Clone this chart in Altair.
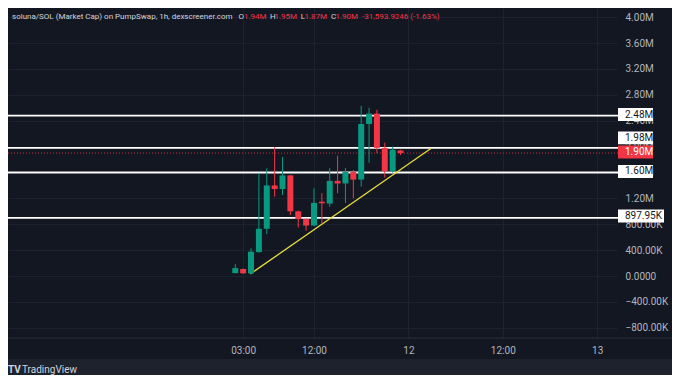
import altair as alt
import pandas as pd

# ---------------- data (values in millions) ----------------
hours  = [2, 3, 4, 5, 6, 7, 8, 9, 10, 11, 12, 13, 14, 15, 16, 17, 18, 19, 20, 21, 22, 23]
opens  = [0.045, 0.108, 0.040, 0.37, 0.73, 1.40, 1.345, 1.555, 1.00, 0.88, 0.78, 1.148, 1.12, 1.47, 1.43, 1.61, 1.49, 2.35, 2.51, 1.98, 1.62, 1.94]
highs  = [0.185, 0.115, 0.428, 1.587, 1.665, 1.99, 1.84, 1.56, 1.01, 0.89, 1.355, 1.28, 1.67, 1.86, 1.67, 1.64, 2.63, 2.60, 2.57, 2.06, 2.00, 1.95]
lows   = [0.040, 0.035, 0.030, 0.36, 0.65, 1.226, 1.25, 0.94, 0.75, 0.70, 0.77, 0.815, 1.07, 1.28, 1.13, 1.20, 1.38, 1.75, 1.90, 1.52, 1.60, 1.87]
closes = [0.122, 0.042, 0.376, 0.73, 1.40, 1.345, 1.555, 1.00, 0.88, 0.78, 1.13, 1.124, 1.47, 1.43, 1.61, 1.49, 2.35, 2.51, 1.98, 1.62, 1.95, 1.90]

level_values = [2.48, 1.60, 0.89795]
level_labels = ["2.48M", "1.60M", "897.95K"]
shifted_level_value = 1.98
shifted_level_label = "1.98M"
last_price = 1.90
last_price_label = "1.90M"

trend_hours  = [3.9, 26.9]
trend_values = [0.031, 1.975]

price_ticks = [-0.8, -0.4, 0.0, 0.4, 0.8, 1.2, 1.6, 2.0, 2.4, 2.8, 3.2, 3.6, 4.0]
time_ticks  = [3, 12, 24, 36, 48]
time_labels = ["03:00", "12:00", "12", "12:00", "13"]

title_text = "soluna/SOL (Market Cap) on PumpSwap, 1h, dexscreener.com"
ohlc_letters = ["O", "H", "L", "C"]
ohlc_values  = ["1.94M", "1.95M", "1.87M", "1.90M"]
change_text  = "-31,593.9246 (-1.63%)"

# ---------------- styling ----------------
BG = "#131722"
FRAME = "#1e222d"
GRID = "#1d2230"
UP = "#089981"
DOWN = "#f23645"
TXT = "#b2b5be"
FONT = "Roboto"
HSIZE = 8.0

W, H = 609, 330
xs = alt.Scale(domain=[-26.25, 49.875], nice=False, zero=False)
ys = alt.Scale(domain=[-0.958, 4.142], nice=False, zero=False)

candles = pd.DataFrame({"h": hours, "o": opens, "hi": highs, "lo": lows, "c": closes})
candles["dir"] = ["up" if c >= o else "down" for o, c in zip(opens, closes)]

time_expr = "''"
for t, l in reversed(list(zip(time_ticks, time_labels))):
    time_expr = f"datum.value == {t} ? '{l}' : ({time_expr})"

price_expr = ("datum.value == 0 ? '0.0000' : (abs(datum.value) >= 1 ? "
              "format(datum.value, '.2f') + 'M' : format(datum.value * 1000, '.2f') + 'K')")

color = alt.Color("dir:N", scale=alt.Scale(domain=["up", "down"], range=[UP, DOWN]), legend=None)

x_axis = alt.Axis(values=time_ticks, labelExpr=time_expr, grid=True, gridColor=GRID, gridWidth=1,
                  domain=False, ticks=False, labelColor=TXT, labelFontSize=10, labelFont=FONT,
                  labelPadding=7, title=None, labelFlush=False)
y_axis = alt.Axis(values=price_ticks, labelExpr=price_expr, orient="right", grid=True, gridColor=GRID,
                  gridWidth=1, domain=False, ticks=False, labelColor=TXT, labelFontSize=10,
                  labelFont=FONT, labelPadding=8, labelAlign="left", title=None, labelFlush=False)


def X(field):
    return alt.X(field, scale=xs, axis=x_axis, title=None)


def Y(field):
    return alt.Y(field, scale=ys, axis=y_axis, title=None)


# bottom frame strip and separator
strip = alt.Chart(pd.DataFrame({"a": [0]})).mark_rect(color=FRAME).encode(
    x=alt.value(-10), x2=alt.value(680), y=alt.value(351), y2=alt.value(380))
sep = alt.Chart(pd.DataFrame({"a": [0]})).mark_rule(color="#2a2e39", strokeWidth=1).encode(
    x=alt.value(0), x2=alt.value(664), y=alt.value(330))

# level lines
levels_df = pd.DataFrame({"v": level_values + [shifted_level_value]})
level_lines = alt.Chart(levels_df).mark_rule(color="#ffffff", strokeWidth=1.8).encode(
    y=Y("v:Q"), x=alt.value(0), x2=alt.value(610))

last_line = alt.Chart(pd.DataFrame({"v": [last_price]})).mark_rule(
    color=DOWN, strokeWidth=1, strokeDash=[1, 2], opacity=0.8).encode(
    y=Y("v:Q"), x=alt.value(0), x2=alt.value(610))

trend = alt.Chart(pd.DataFrame({"h": trend_hours, "v": trend_values})).mark_line(
    color="#e6dc3c", strokeWidth=1.3).encode(x=X("h:Q"), y=Y("v:Q"))

wicks = alt.Chart(candles).mark_rule(strokeWidth=1).encode(
    x=X("h:Q"), y=Y("lo:Q"), y2="hi:Q", color=color)

bodies = alt.Chart(candles).mark_bar(size=6).encode(
    x=X("h:Q"), y=Y("o:Q"), y2="c:Q", color=color)


# price labels on the right scale
def box_layer(vals, labels, fill, txtcolor, right, yoff):
    df = pd.DataFrame({"v": vals, "label": labels})
    base = alt.Chart(df).transform_calculate(top="datum.v + 0.1", bot="datum.v - 0.1")
    rect = base.mark_rect(color=fill, yOffset=yoff, y2Offset=yoff).encode(
        y=Y("top:Q"), y2="bot:Q", x=alt.value(610), x2=alt.value(right))
    txt = base.mark_text(align="left", baseline="middle", color=txtcolor, fontSize=10,
                         font=FONT, dy=yoff).encode(
        y=Y("v:Q"), x=alt.value(617), text="label:N")
    return [rect, txt]


boxes = []
boxes += box_layer(level_values[:2], level_labels[:2], "#ffffff", "#131722", 645, -1)
boxes += box_layer([level_values[2]], [level_labels[2]], "#ffffff", "#131722", 656, -2)
boxes += box_layer([shifted_level_value], [shifted_level_label], "#ffffff", "#131722", 645, -10)
boxes += box_layer([last_price], [last_price_label], DOWN, "#ffffff", 645, -1)


# header
def txt(s, x, col, weight="normal", size=HSIZE, y=9, font=FONT):
    return alt.Chart(pd.DataFrame({"t": [s]})).mark_text(
        align="left", baseline="middle", color=col, fontSize=size, font=font, fontWeight=weight
    ).encode(x=alt.value(x), y=alt.value(y), text="t:N")


header = [txt(title_text, 4, "#d1d4dc")]
letter_x = [230.5, 262, 292.7, 323]
value_x = [236, 266.5, 296.5, 327.5]
for lx, vx, l, v in zip(letter_x, value_x, ohlc_letters, ohlc_values):
    header.append(txt(l, lx, "#d1d4dc"))
    header.append(txt(v, vx, DOWN))
header.append(txt(change_text, 354, DOWN))

logo = [txt("TV", 0, "#d1d4dc", "bold", 10, 362),
        txt("TradingView", 14, "#d1d4dc", "normal", 10, 362)]

chart = alt.layer(
    strip, sep, level_lines, last_line, trend, wicks, bodies, *boxes, *header, *logo
).properties(
    width=W, height=H,
    autosize=alt.AutoSizeParams(type="none"),
    padding={"left": 0, "top": 0, "right": 55, "bottom": 37},
    background=BG,
).configure_view(fill=BG, strokeWidth=0)

chart.save("out.html", embed_options={"renderer": "svg", "actions": False})
